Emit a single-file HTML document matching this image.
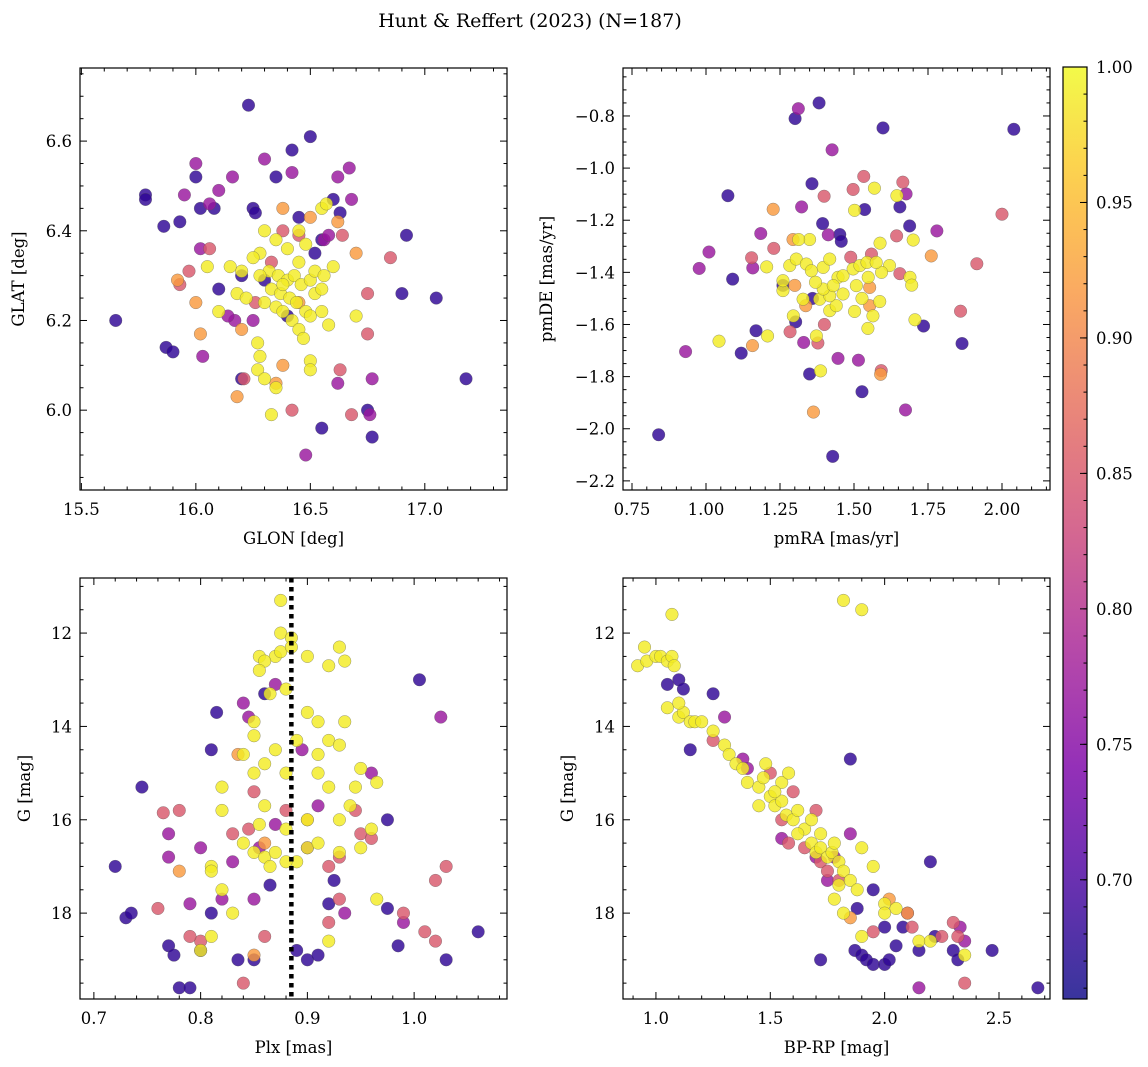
<!DOCTYPE html>
<html><head><meta charset="utf-8">
<style>
html,body{margin:0;padding:0;background:#fff;}
svg{display:block;font-family:"DejaVu Serif","Liberation Serif",serif;}
</style></head>
<body>
<svg id="fig" width="1148" height="1067" viewBox="0 0 1148 1067" xmlns="http://www.w3.org/2000/svg">
<text x="530" y="27" font-size="19" text-anchor="middle">Hunt &amp; Reffert (2023) (N=187)</text>
</svg>
<script>
// probability tiers (color values)
const tierProb = [0.68, 0.77, 0.85, 0.92, 0.99];

// Panel 1: GLON vs GLAT
const tlPurple = [[15.65,6.2],[15.78,6.48],[15.78,6.47],[15.86,6.41],[15.87,6.14],[15.9,6.13],[15.93,6.42],[16.0,6.52],[16.02,6.45],[16.08,6.45],[16.1,6.27],[16.2,6.07],[16.23,6.68],[16.25,6.45],[16.26,6.44],[16.3,6.29],[16.35,6.52],[16.42,6.58],[16.45,6.43],[16.5,6.61],[16.55,6.38],[16.6,6.47],[16.63,6.44],[16.55,5.96],[16.75,6.0],[16.77,5.94],[16.9,6.26],[16.92,6.39],[17.05,6.25],[17.18,6.07],[16.4,6.21],[16.2,6.3],[16.52,6.35]];
const tlViolet = [[15.95,6.48],[16.0,6.55],[16.06,6.46],[16.1,6.49],[16.16,6.52],[16.42,6.53],[16.62,6.52],[16.67,6.54],[16.68,6.47],[16.03,6.12],[16.02,6.36],[16.17,6.2],[16.25,6.2],[16.14,6.21],[16.3,6.56],[16.62,6.06],[16.48,5.9],[16.77,6.07],[16.76,5.99],[16.56,6.38],[16.58,6.39]];
const tlPink = [[15.97,6.31],[15.93,6.28],[16.06,6.36],[16.21,6.07],[16.38,6.4],[16.42,6.0],[16.63,6.09],[16.68,5.99],[16.75,6.17],[16.75,6.26],[16.85,6.34],[16.33,6.33],[16.26,6.24],[16.45,6.39],[16.64,6.39]];
const tlOrange = [[15.92,6.29],[16.0,6.24],[16.02,6.17],[16.18,6.03],[16.2,6.18],[16.38,6.45],[16.5,6.43],[16.7,6.35],[16.62,6.42],[16.35,6.06],[16.38,6.1],[16.45,6.24]];
const tlYellow = [[16.3,6.4],[16.35,6.38],[16.4,6.36],[16.45,6.33],[16.48,6.37],[16.55,6.45],[16.57,6.46],[16.28,6.35],[16.25,6.34],[16.32,6.31],[16.36,6.3],[16.4,6.29],[16.43,6.3],[16.46,6.28],[16.5,6.29],[16.52,6.31],[16.56,6.3],[16.6,6.32],[16.33,6.27],[16.37,6.26],[16.41,6.25],[16.44,6.24],[16.48,6.22],[16.3,6.24],[16.35,6.23],[16.38,6.22],[16.42,6.2],[16.45,6.18],[16.47,6.16],[16.5,6.21],[16.55,6.22],[16.58,6.19],[16.7,6.21],[16.18,6.26],[16.2,6.31],[16.22,6.25],[16.05,6.32],[16.15,6.32],[16.1,6.22],[16.27,6.15],[16.28,6.12],[16.27,6.09],[16.3,6.07],[16.35,6.05],[16.33,5.99],[16.5,6.11],[16.5,6.09],[16.52,6.26],[16.55,6.27],[16.45,6.4],[16.38,6.28],[16.28,6.3]];

// Panel 2: pmRA vs pmDE
const trPurple = [[1.382,-0.75],[1.301,-0.81],[1.598,-0.846],[2.04,-0.851],[1.358,-1.06],[1.074,-1.106],[1.536,-1.159],[1.655,-1.149],[1.394,-1.213],[1.452,-1.255],[1.457,-1.281],[1.688,-1.222],[1.09,-1.426],[1.735,-1.606],[1.865,-1.673],[1.303,-1.59],[1.169,-1.624],[1.119,-1.71],[1.35,-1.79],[1.527,-1.858],[0.84,-2.023],[1.428,-2.106],[1.26,-1.45],[1.36,-1.5]];
const trViolet = [[1.312,-0.772],[1.426,-0.93],[1.323,-1.149],[1.185,-1.251],[1.01,-1.322],[0.977,-1.385],[1.158,-1.383],[1.78,-1.241],[1.413,-1.256],[1.446,-1.73],[1.515,-1.737],[1.674,-1.928],[0.931,-1.704],[1.33,-1.669],[1.676,-1.099]];
const trPink = [[1.533,-1.032],[1.497,-1.082],[1.399,-1.108],[1.665,-1.054],[2.0,-1.177],[1.229,-1.308],[1.644,-1.26],[1.915,-1.367],[1.655,-1.405],[1.86,-1.549],[1.284,-1.628],[1.378,-1.671],[1.4,-1.6],[1.154,-1.344],[1.592,-1.777],[1.489,-1.342],[1.559,-1.33]];
const trOrange = [[1.227,-1.158],[1.157,-1.681],[1.363,-1.936],[1.761,-1.337],[1.59,-1.791],[1.294,-1.274],[1.3,-1.45],[1.337,-1.528],[1.553,-1.458],[1.553,-1.528]];
const trYellow = [[1.569,-1.077],[1.645,-1.106],[1.502,-1.162],[1.588,-1.288],[1.7,-1.276],[1.35,-1.274],[1.313,-1.274],[1.205,-1.379],[1.044,-1.664],[1.208,-1.644],[1.387,-1.778],[1.373,-1.644],[1.295,-1.567],[1.706,-1.582],[1.547,-1.615],[1.689,-1.419],[1.695,-1.449],[1.62,-1.374],[1.593,-1.4],[1.587,-1.512],[1.564,-1.567],[1.502,-1.55],[1.418,-1.547],[1.44,-1.528],[1.384,-1.503],[1.328,-1.503],[1.26,-1.47],[1.26,-1.432],[1.283,-1.374],[1.305,-1.349],[1.339,-1.368],[1.356,-1.394],[1.396,-1.381],[1.418,-1.349],[1.446,-1.419],[1.463,-1.413],[1.497,-1.387],[1.52,-1.374],[1.544,-1.362],[1.575,-1.362],[1.548,-1.419],[1.508,-1.451],[1.463,-1.483],[1.418,-1.49],[1.396,-1.464],[1.43,-1.451],[1.37,-1.438],[1.527,-1.5]];

// Panel 3: Plx vs G
const blPurple = [[0.72,17.0],[0.73,18.1],[0.735,18.0],[0.745,15.3],[0.77,18.7],[0.775,18.9],[0.78,19.6],[0.79,19.6],[0.8,18.8],[0.81,14.5],[0.815,13.7],[0.81,18.0],[0.835,19.0],[0.85,19.0],[0.86,13.3],[0.89,18.8],[0.9,19.0],[0.91,18.9],[0.92,17.8],[0.975,17.9],[0.985,18.7],[1.005,13.0],[1.03,19.0],[1.06,18.4],[0.975,16.0],[0.925,17.3],[0.865,17.4]];
const blViolet = [[0.77,16.3],[0.77,16.8],[0.79,17.8],[0.82,17.7],[0.83,16.9],[0.87,13.1],[0.84,13.5],[0.845,13.8],[0.855,16.6],[0.85,17.7],[0.935,18.0],[0.96,15.0],[0.99,18.2],[1.025,13.8],[0.895,14.5],[0.91,15.7],[0.9,16.6],[0.87,16.1],[0.8,16.6]];
const blPink = [[0.765,15.85],[0.78,15.8],[0.76,17.9],[0.85,15.4],[0.845,16.2],[0.84,19.5],[0.86,18.5],[0.945,15.8],[0.95,16.3],[0.96,16.4],[0.99,18.0],[1.01,18.4],[1.02,18.6],[0.92,17.0],[0.93,17.7],[0.92,18.2],[0.88,15.8],[0.8,18.6],[0.79,18.5],[0.83,16.3],[0.93,16.8],[1.02,17.3],[1.03,17.0]];
const blOrange = [[0.835,14.6],[0.86,16.5],[0.9,16.0],[0.85,18.9],[0.78,17.1]];
const blYellow = [[0.875,11.3],[0.875,12.0],[0.87,12.5],[0.855,12.5],[0.86,12.6],[0.855,12.8],[0.875,12.4],[0.885,12.1],[0.885,12.3],[0.9,12.5],[0.92,12.7],[0.93,12.3],[0.935,12.6],[0.865,13.3],[0.88,13.2],[0.9,13.7],[0.91,13.9],[0.85,13.9],[0.85,14.2],[0.87,14.5],[0.89,14.3],[0.92,14.3],[0.91,14.6],[0.84,14.6],[0.86,14.8],[0.85,15.0],[0.88,15.0],[0.91,15.0],[0.935,13.9],[0.92,15.3],[0.95,14.9],[0.965,15.2],[0.94,15.7],[0.93,16.0],[0.9,16.0],[0.88,16.2],[0.86,15.7],[0.855,16.1],[0.82,15.3],[0.82,15.8],[0.84,16.5],[0.85,16.7],[0.86,16.8],[0.87,16.7],[0.9,16.6],[0.91,16.5],[0.93,16.7],[0.95,16.6],[0.96,16.2],[0.89,16.9],[0.81,17.0],[0.81,17.1],[0.82,17.5],[0.83,18.0],[0.81,18.5],[0.8,18.8],[0.92,18.6],[0.965,17.7],[0.88,16.9],[0.865,17.0],[0.945,15.3],[0.93,14.4]];

// Panel 4: BP-RP vs G
const brPurple = [[1.05,13.1],[1.1,13.0],[1.12,13.2],[1.15,14.5],[1.25,13.3],[1.72,19.0],[1.85,14.7],[1.87,18.8],[1.9,18.9],[1.92,19.0],[1.95,19.1],[2.0,19.1],[2.02,19.0],[2.05,18.7],[2.08,18.3],[2.15,18.8],[2.2,16.9],[2.22,18.5],[2.3,18.8],[2.32,19.0],[2.47,18.8],[2.67,19.6],[1.88,17.9],[1.95,17.5],[2.0,18.3]];
const brViolet = [[1.3,13.8],[1.38,14.7],[1.55,16.4],[1.7,16.8],[2.1,18.0],[2.15,19.6],[2.35,18.6],[1.85,16.3],[1.78,16.8],[1.75,17.3],[2.33,18.3],[1.4,14.9]];
const brPink = [[1.25,14.3],[1.55,16.0],[1.6,15.4],[1.65,16.6],[1.72,16.9],[1.75,17.1],[1.95,18.4],[2.12,18.3],[2.25,18.5],[2.3,18.2],[2.35,19.5],[1.7,15.8],[1.5,15.0],[1.8,17.3],[1.58,16.5],[2.32,18.5]];
const brOrange = [[1.85,18.1],[2.02,17.7],[2.1,18.0]];
const brYellow = [[0.92,12.7],[0.95,12.3],[0.96,12.6],[1.0,12.5],[1.02,12.5],[1.05,12.6],[1.07,12.5],[1.07,11.6],[1.08,12.7],[1.05,13.6],[1.1,13.8],[1.12,13.7],[1.15,13.9],[1.17,13.9],[1.2,13.9],[1.25,14.1],[1.3,14.4],[1.32,14.6],[1.35,14.8],[1.38,14.9],[1.4,15.2],[1.45,15.3],[1.47,15.1],[1.5,15.5],[1.52,15.7],[1.55,15.6],[1.57,15.9],[1.6,16.0],[1.62,15.8],[1.65,16.2],[1.68,16.5],[1.7,16.7],[1.72,16.6],[1.75,16.8],[1.77,16.7],[1.8,16.9],[1.82,17.1],[1.85,17.3],[1.9,16.6],[1.88,17.5],[1.95,17.0],[2.0,17.8],[2.05,17.9],[2.15,18.6],[2.2,18.6],[2.35,18.9],[1.82,11.3],[1.9,11.5],[1.78,17.7],[1.82,18.0],[1.9,18.5],[1.55,15.2],[1.58,15.0],[1.48,14.8],[1.62,16.3],[1.72,16.3],[1.68,16.0],[1.78,16.5],[1.1,13.5],[1.52,15.4],[1.45,15.7],[1.8,17.4],[2.0,18.0]];

const plxLine = 0.885;
const cbTicks = [0.70, 0.75, 0.80, 0.85, 0.90, 0.95, 1.00];

const NS = "http://www.w3.org/2000/svg";
const svg = document.getElementById('fig');
const VMIN = 0.656, VMAX = 1.0;
const stops = [[0,[13,8,135]],[0.13,[75,3,161]],[0.25,[125,3,168]],[0.38,[168,34,150]],[0.5,[203,70,121]],[0.63,[229,107,93]],[0.75,[248,148,65]],[0.88,[253,195,40]],[1,[240,249,33]]];
function plasma(t){t=Math.max(0,Math.min(1,t));for(let i=1;i<stops.length;i++){if(t<=stops[i][0]){const a=stops[i-1],b=stops[i];const f=(t-a[0])/(b[0]-a[0]);const c=a[1].map((v,k)=>Math.round(v+(b[1][k]-v)*f));return `rgb(${c[0]},${c[1]},${c[2]})`;}}return 'rgb(240,249,33)';}
function el(tag, attrs, parent){const e=document.createElementNS(NS,tag);for(const k in attrs)e.setAttribute(k,attrs[k]);(parent||svg).appendChild(e);return e;}
function fmt(v,d){return v.toFixed(d).replace('-','\u2212');}

function panel(cfg){
  const g = el('g',{});
  
  
  const {x0,x1,y0,y1,xmin,xmax,ymin,ymax,invertY}=cfg;
  const sx = v => x0 + (v-xmin)/(xmax-xmin)*(x1-x0);
  const sy = v => invertY ? y0 + (v-ymin)/(ymax-ymin)*(y1-y0) : y1 - (v-ymin)/(ymax-ymin)*(y1-y0);
  const clip = 'clip-'+cfg.name;
  const cp = el('clipPath',{id:clip},g); el('rect',{x:x0,y:y0,width:x1-x0,height:y1-y0},cp);
  const pts = el('g',{'clip-path':`url(#${clip})`},g);
  cfg.groups.forEach((grp,gi)=>{
    grp.forEach(p=>{
      const c = el('circle',{cx:sx(p[0]),cy:sy(p[1]),r:6.3,fill:plasma((tierProb[gi]-VMIN)/(VMAX-VMIN)),'fill-opacity':0.82,stroke:'#555','stroke-opacity':0.6,'stroke-width':0.5},pts);
      
      
    });
  });
  if(cfg.vline!==undefined){
    const l = el('line',{x1:sx(cfg.vline),x2:sx(cfg.vline),y1:y0,y2:y1,stroke:'#000','stroke-width':4.5,'stroke-dasharray':'4.5,4.5'},g);
    
    
  }
  el('rect',{x:x0,y:y0,width:x1-x0,height:y1-y0,fill:'none',stroke:'#000','stroke-width':1.2},g);
  const eps=1e-9;
  const minorX=[],minorY=[];
  for(let v=Math.ceil(xmin/cfg.xminor-eps)*cfg.xminor; v<=xmax+eps; v+=cfg.xminor) minorX.push(v);
  for(let v=Math.ceil(Math.min(ymin,ymax)/cfg.yminor-eps)*cfg.yminor; v<=Math.max(ymin,ymax)+eps; v+=cfg.yminor) minorY.push(v);
  minorX.forEach(v=>{const x=sx(v);const maj=Math.abs(v/cfg.xmajor-Math.round(v/cfg.xmajor))<1e-6;const L=maj?7:3.5;
    el('line',{x1:x,x2:x,y1:y1,y2:y1-L,stroke:'#000','stroke-width':1},g);
    el('line',{x1:x,x2:x,y1:y0,y2:y0+L,stroke:'#000','stroke-width':1},g);
    if(maj){const t=el('text',{x:x,y:y1+25,'font-size':16.5,'text-anchor':'middle'},g);t.textContent=fmt(v,cfg.xdec);}
  });
  minorY.forEach(v=>{const y=sy(v);const maj=Math.abs(v/cfg.ymajor-Math.round(v/cfg.ymajor))<1e-6;const L=maj?7:3.5;
    el('line',{x1:x0,x2:x0+L,y1:y,y2:y,stroke:'#000','stroke-width':1},g);
    el('line',{x1:x1,x2:x1-L,y1:y,y2:y,stroke:'#000','stroke-width':1},g);
    if(maj){const t=el('text',{x:x0-8,y:y+6,'font-size':16.5,'text-anchor':'end'},g);t.textContent=fmt(v,cfg.ydec);}
  });
  const xl=el('text',{x:(x0+x1)/2,y:y1+54,'font-size':16.5,'text-anchor':'middle'},g);xl.textContent=cfg.xlabel;
  
  const yl=el('text',{x:0,y:0,'font-size':16.5,'text-anchor':'middle',transform:`translate(${cfg.ylabx},${(y0+y1)/2}) rotate(-90)`},g);yl.textContent=cfg.ylabel;
  
}

panel({name:'panel-glon-glat',x0:80,x1:507,y0:68,y1:490,xmin:15.494,xmax:17.359,ymin:5.822,ymax:6.763,xmajor:0.5,xminor:0.1,ymajor:0.2,yminor:0.05,xdec:1,ydec:1,xlabel:'GLON [deg]',ylabel:'GLAT [deg]',ylabx:24,groups:[tlPurple,tlViolet,tlPink,tlOrange,tlYellow]});
panel({name:'panel-pmra-pmde',x0:623,x1:1050,y0:68,y1:490,xmin:0.7196,xmax:2.1622,ymin:-2.235,ymax:-0.616,xmajor:0.25,xminor:0.05,ymajor:0.2,yminor:0.05,xdec:2,ydec:1,xlabel:'pmRA [mas/yr]',ylabel:'pmDE [mas/yr]',ylabx:552,groups:[trPurple,trViolet,trPink,trOrange,trYellow]});
panel({name:'panel-plx-g',x0:80,x1:507,y0:578,y1:999,xmin:0.687,xmax:1.087,ymin:10.82,ymax:19.84,invertY:true,xmajor:0.1,xminor:0.02,ymajor:2,yminor:0.5,xdec:1,ydec:0,xlabel:'Plx [mas]',ylabel:'G [mag]',ylabx:30,vline:plxLine,groups:[blPurple,blViolet,blPink,blOrange,blYellow]});
panel({name:'panel-bprp-g',x0:623,x1:1050,y0:578,y1:999,xmin:0.856,xmax:2.723,ymin:10.82,ymax:19.84,invertY:true,xmajor:0.5,xminor:0.1,ymajor:2,yminor:0.5,xdec:1,ydec:0,xlabel:'BP-RP [mag]',ylabel:'G [mag]',ylabx:573,groups:[brPurple,brViolet,brPink,brOrange,brYellow]});

(function(){
  const cx0=1063,cx1=1087,cy0=67,cy1=999;
  const g=el('g',{});
  
  
  const defs=el('defs',{},g);
  const lg=el('linearGradient',{id:'cbgrad',x1:0,y1:1,x2:0,y2:0},defs);
  for(let i=0;i<=20;i++){el('stop',{offset:i/20,'stop-color':plasma(i/20),'stop-opacity':0.82},lg);}
  el('rect',{x:cx0,y:cy0,width:cx1-cx0,height:cy1-cy0,fill:'url(#cbgrad)',stroke:'#000','stroke-width':1.2},g);
  const sy=v=>cy1-(v-VMIN)/(VMAX-VMIN)*(cy1-cy0);
  for(let v=0.66;v<=1.0001;v+=0.01){const y=sy(v);el('line',{x1:cx1,x2:cx1-3.5,y1:y,y2:y,stroke:'#000','stroke-width':1},g);}
  cbTicks.forEach(v=>{const y=sy(v);el('line',{x1:cx1,x2:cx1-7,y1:y,y2:y,stroke:'#000','stroke-width':1},g);
    const t=el('text',{x:cx1+9,y:y+6,'font-size':16.5},g);t.textContent=v.toFixed(2);
    });
})();
</script>
</body></html>
